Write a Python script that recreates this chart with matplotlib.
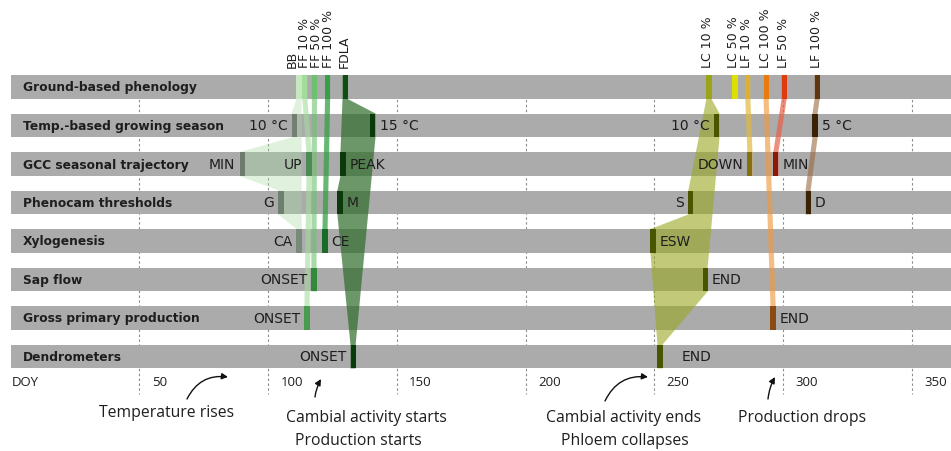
import matplotlib
matplotlib.use('Agg')
import matplotlib.pyplot as plt
from matplotlib.patches import Rectangle, Polygon

# ---------------- data ----------------
rows = ['Ground-based phenology', 'Temp.-based growing season', 'GCC seasonal trajectory',
        'Phenocam thresholds', 'Xylogenesis', 'Sap flow', 'Gross primary production',
        'Dendrometers']

ground_events = ['BB', 'FF 10 %', 'FF 50 %', 'FF 100 %', 'FDLA',
                 'LC 10 %', 'LC 50 %', 'LF 10 %', 'LC 100 %', 'LF 50 %', 'LF 100 %']
ground_doy = [112, 114.3, 118, 123.1, 129.9, 271.2, 281.3, 286.3, 293.4, 300.4, 313.2]

marker_row = [1, 1, 1, 1,
              2, 2, 2, 2, 2,
              3, 3, 3, 3,
              4, 4, 4,
              5, 5,
              6, 6,
              7, 7]
marker_label = ['10 °C', '15 °C', '10 °C', '5 °C',
                'MIN', 'UP', 'PEAK', 'DOWN', 'MIN',
                'G', 'M', 'S', 'D',
                'CA', 'CE', 'ESW',
                'ONSET', 'END',
                'ONSET', 'END',
                'ONSET', 'END']
marker_doy = [110.1, 140.7, 274.3, 312.4,
              89.9, 115.9, 129.1, 287.1, 297.2,
              105.0, 127.9, 264.2, 309.7,
              112.0, 122.1, 249.5,
              117.8, 269.7,
              115.1, 296.1,
              133.0, 252.2]
marker_event = ['BB', 'FDLA', 'LC 10 %', 'LF 100 %',
                'BB', 'FF 10 %', 'FDLA', 'LF 10 %', 'LF 50 %',
                'BB', 'FDLA', 'LC 10 %', 'LF 100 %',
                'BB', 'FF 100 %', 'LC 10 %',
                'FF 50 %', 'LC 10 %',
                'FF 10 %', 'LC 100 %',
                'FDLA', 'LC 10 %']

xticks = [50, 100, 150, 200, 250, 300, 350]

notes = ['Temperature rises', 'Cambial activity starts', 'Production starts',
         'Cambial activity ends', 'Phloem collapses', 'Production drops']

# ---------------- styles ----------------
# which edge of a group's band each marker shapes (L, R or B = both)
marker_side = ['L', 'R', 'R', 'B',
               'L', 'B', 'L', 'B', 'B',
               'L', 'L', 'L', 'B',
               'B', 'B', 'L',
               'B', 'R',
               'B', 'B',
               'B', 'B']
label_side = ['l', 'r', 'l', 'r',
              'l', 'l', 'r', 'l', 'r',
              'l', 'r', 'l', 'r',
              'l', 'r', 'r',
              'l', 'r',
              'l', 'r',
              'l', 'r']
label_pad = [1.6] * len(marker_label)
label_pad[-1] = 7.5

ground_color = {'BB': '#c6e8be', 'FF 10 %': '#a3db9b', 'FF 50 %': '#6cc070',
                'FF 100 %': '#35a045', 'FDLA': '#0f4f12',
                'LC 10 %': '#9aa515', 'LC 50 %': '#dce000', 'LF 10 %': '#dcb030',
                'LC 100 %': '#e87a10', 'LF 50 %': '#e03a10', 'LF 100 %': '#5e3610'}
band_color = {'BB': '#a8dca0', 'FF 10 %': '#a3db9b', 'FF 50 %': '#6cc070',
              'FF 100 %': '#35a045', 'FDLA': '#2e6b2a',
              'LC 10 %': '#9aa820', 'LC 50 %': '#dce000', 'LF 10 %': '#e0b840',
              'LC 100 %': '#f09a40', 'LF 50 %': '#e86048', 'LF 100 %': '#9a6a40'}
band_alpha = {'BB': 0.35, 'FF 10 %': 0.6, 'FF 50 %': 0.6, 'FF 100 %': 0.75, 'FDLA': 0.7,
              'LC 10 %': 0.6, 'LC 50 %': 0.6, 'LF 10 %': 0.7, 'LC 100 %': 0.65,
              'LF 50 %': 0.7, 'LF 100 %': 0.6}
marker_color = ['#737f73', '#0a3a0a', '#4a5500', '#3a2205',
                '#6d7a6e', '#4e8a55', '#0a3a0a', '#85700f', '#8a1a05',
                '#6f7f6f', '#0d3a0d', '#4a5500', '#3a2205',
                '#7a8a7a', '#1a6a28', '#4a5500',
                '#2f8a3a', '#4a5500',
                '#4a9a50', '#8a4a10',
                '#0a3a0a', '#4a5500']

PXD = 2.575   # pixels per day
X0 = 10.6     # pixel of DOY 0
ROWPX = 38.5
Y0 = 88
H = 0.623     # bar height (row units)
W = 2.0       # marker width (days)
BAR_GREY = '#ababab'
TXT = '#1e1e1e'

fig = plt.figure(figsize=(9.51, 4.52), dpi=100)
ax = fig.add_axes([0, 0, 1, 1])
ax.set_xlim(-X0 / PXD, (951 - X0) / PXD)
ax.set_ylim((452 - Y0) / ROWPX, -Y0 / ROWPX)
ax.axis('off')


def px(x, y):
    return ((x - X0) / PXD, (y - Y0) / ROWPX)


# grid lines
for d in xticks:
    ax.plot([d, d], [-0.31, 7.97], color='#8c8c8c', lw=0.8,
            ls=(0, (2.2, 2.2)), zorder=0)

# bars + row labels
for i, name in enumerate(rows):
    ax.add_patch(Rectangle((0, i - H / 2), 380, H, color=BAR_GREY, lw=0, zorder=1))
    ax.text(4.8, i, name, ha='left', va='center', fontsize=8.8,
            fontweight='bold', color=TXT, zorder=5)


# bands
def edge(points, side):
    pts = []
    for r, d in points:
        x = d - W / 2 if side == 'L' else d + W / 2
        pts.append((x, r - H / 2))
        pts.append((x, r + H / 2))
    return pts


for e, gd in zip(ground_events, ground_doy):
    members = [(0, gd, 'B')] + [(marker_row[k], marker_doy[k], marker_side[k])
                               for k in range(len(marker_row)) if marker_event[k] == e]
    members.sort(key=lambda m: m[0])
    if len(members) < 2:
        continue
    left = edge([(r, d) for r, d, s in members if s in 'LB'], 'L')
    right = edge([(r, d) for r, d, s in members if s in 'RB'], 'R')
    poly = Polygon(left + right[::-1], closed=True, facecolor=band_color[e],
                   alpha=band_alpha[e], lw=0, zorder=2)
    ax.add_patch(poly)

# ground markers
for e, gd in zip(ground_events, ground_doy):
    ax.add_patch(Rectangle((gd - W / 2, -H / 2), W, H, color=ground_color[e], lw=0, zorder=3))

# top labels, spread apart
lx = list(ground_doy)
gap = 4.6
for _ in range(300):
    for j in range(len(lx) - 1):
        dd = lx[j + 1] - lx[j]
        if dd < gap:
            m = (gap - dd) / 2
            lx[j] -= m
            lx[j + 1] += m
for e, x in zip(ground_events, lx):
    ax.text(x - 0.4, -0.52, e, rotation=90, ha='center', va='bottom',
            fontsize=9, color=TXT, zorder=5)

# row markers + labels
for k in range(len(marker_row)):
    r, d = marker_row[k], marker_doy[k]
    ax.add_patch(Rectangle((d - W / 2, r - H / 2), W, H, color=marker_color[k], lw=0, zorder=3))
    if label_side[k] == 'l':
        ax.text(d - W / 2 - label_pad[k], r, marker_label[k], ha='right', va='center',
                fontsize=10, color=TXT, zorder=5)
    else:
        ax.text(d + W / 2 + label_pad[k], r, marker_label[k], ha='left', va='center',
                fontsize=10, color=TXT, zorder=5)

# axis labels
ax.text(0.5, 7.66, 'DOY', ha='left', va='center', fontsize=9.5,
        family='Open Sans', color=TXT)
for d in xticks:
    ax.text(d + 4.8, 7.66, str(d), ha='left', va='center', fontsize=9.5,
            family='Open Sans', color=TXT)

# annotations
note_pos = [(167, 413), (366, 418), (358, 441), (624, 418), (625, 441), (802, 418)]
for t, (x, y) in zip(notes, note_pos):
    ax.text(*px(x, y), t, ha='center', va='center', fontsize=11.3,
            family='Open Sans', color=TXT)

arrows = [((187, 400), (228, 378), -0.35), ((315, 398), (321, 380), -0.1),
          ((605, 402), (648, 378), -0.35), ((768, 400), (775, 378), -0.1)]
for a, b, rad in arrows:
    ax.annotate('', xy=px(*b), xytext=px(*a),
                arrowprops=dict(arrowstyle='-|>', color='#111111', lw=1.0,
                                mutation_scale=9,
                                connectionstyle=f'arc3,rad={rad}',
                                shrinkA=0, shrinkB=0))

fig.savefig('out.png', dpi=100)
